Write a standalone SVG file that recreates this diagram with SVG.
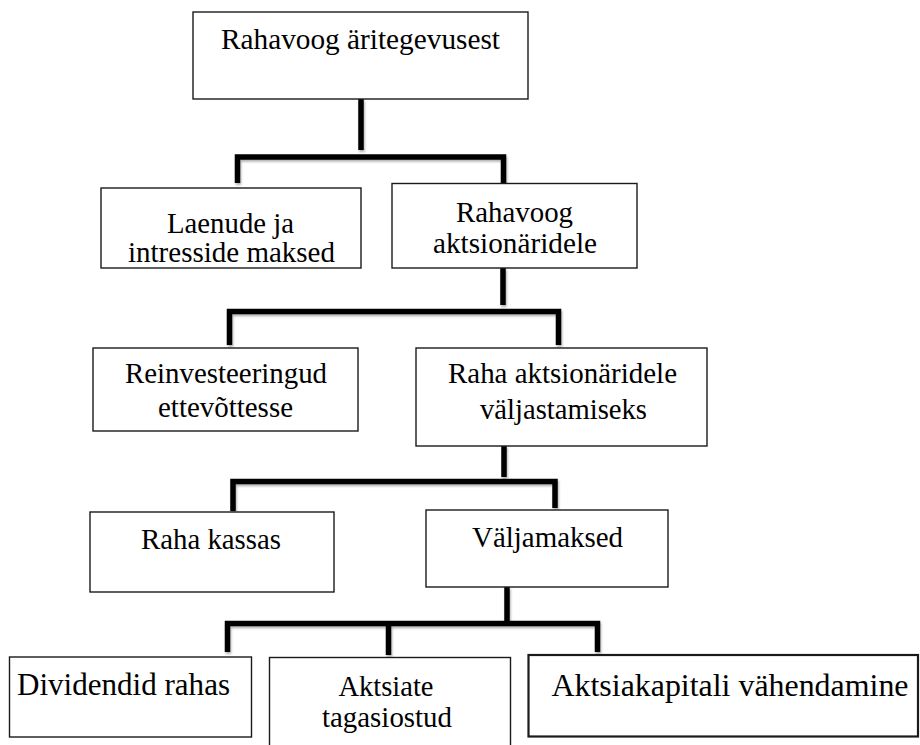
<svg xmlns="http://www.w3.org/2000/svg" width="920" height="745" viewBox="0 0 920 745" font-family="'Liberation Serif', 'DejaVu Serif', serif">
  <style>
    .box { fill: #ffffff; stroke: #1a1a1a; stroke-width: 1.4; }
    .boxb { fill: #ffffff; stroke: #1a1a1a; stroke-width: 2.2; }
    text { font-family: 'Liberation Serif', 'DejaVu Serif', serif; fill: #000000; text-anchor: middle; }
    .t { font-size: 29px; }
    .tl { font-size: 32px; }
    .c { fill: none; stroke: #000000; stroke-width: 5.5; stroke-linejoin: miter; stroke-linecap: butt; }
  </style>
  <defs>
    <filter id="sh" x="-10%" y="-10%" width="120%" height="140%">
      <feDropShadow dx="1" dy="2" stdDeviation="1.3" flood-color="#000000" flood-opacity="0.3"/>
    </filter>
  </defs>
  <rect width="920" height="745" fill="#ffffff"/>

  <g id="connectors" filter="url(#sh)">
    <path class="c" d="M361 99 V150"/>
    <path class="c" d="M237.5 183 V157 H503.5 V183"/>
    <path class="c" d="M503 268 V305"/>
    <path class="c" d="M229.5 345 V311.5 H558.5 V345"/>
    <path class="c" d="M504 446 V477"/>
    <path class="c" d="M233 511 V481.5 H555 V508"/>
    <path class="c" d="M507 587 V621"/>
    <path class="c" d="M227.5 652 V623.5 H597.5 V652"/>
    <path class="c" d="M388.5 623.5 V655"/>
  </g>

  <g id="n-top">
    <rect class="box" x="193" y="12" width="335" height="87"/>
    <text class="t" x="360.5" y="49" textLength="279" lengthAdjust="spacingAndGlyphs">Rahavoog äritegevusest</text>
  </g>

  <g id="n-laenud">
    <rect class="box" x="101" y="188" width="260" height="80"/>
    <text class="t" x="230.5" y="233" textLength="127" lengthAdjust="spacingAndGlyphs">Laenude ja</text>
    <text class="t" x="231.5" y="262" textLength="207" lengthAdjust="spacingAndGlyphs">intresside maksed</text>
  </g>

  <g id="n-rahavoog-aktsionaridele">
    <rect class="box" x="392" y="183.5" width="245" height="84.5"/>
    <text class="t" x="514.5" y="222" textLength="117" lengthAdjust="spacingAndGlyphs">Rahavoog</text>
    <text class="t" x="515" y="253" textLength="164" lengthAdjust="spacingAndGlyphs">aktsionäridele</text>
  </g>

  <g id="n-reinvesteeringud">
    <rect class="box" x="93" y="348" width="265" height="83"/>
    <text class="t" x="226" y="383" textLength="202" lengthAdjust="spacingAndGlyphs">Reinvesteeringud</text>
    <text class="t" x="225.5" y="417" textLength="135" lengthAdjust="spacingAndGlyphs">ettevõttesse</text>
  </g>

  <g id="n-raha-aktsionaridele">
    <rect class="box" x="416" y="348" width="291" height="98"/>
    <text class="t" x="562.5" y="383" textLength="229" lengthAdjust="spacingAndGlyphs">Raha aktsionäridele</text>
    <text class="t" x="563.5" y="419" textLength="167" lengthAdjust="spacingAndGlyphs">väljastamiseks</text>
  </g>

  <g id="n-raha-kassas">
    <rect class="box" x="90" y="512" width="244" height="80"/>
    <text class="t" x="211" y="549" textLength="140" lengthAdjust="spacingAndGlyphs">Raha kassas</text>
  </g>

  <g id="n-valjamaksed">
    <rect class="box" x="426" y="510" width="242" height="77"/>
    <text class="t" x="547.5" y="547" textLength="151" lengthAdjust="spacingAndGlyphs">Väljamaksed</text>
  </g>

  <g id="n-dividendid">
    <rect class="box" x="9.5" y="657" width="242" height="80"/>
    <text class="tl" x="123.5" y="695" textLength="213" lengthAdjust="spacingAndGlyphs">Dividendid rahas</text>
  </g>

  <g id="n-aktsiate-tagasiostud">
    <rect class="box" x="269.5" y="657.5" width="241" height="110"/>
    <text class="t" x="386" y="696" textLength="95" lengthAdjust="spacingAndGlyphs">Aktsiate</text>
    <text class="t" x="387" y="727" textLength="130" lengthAdjust="spacingAndGlyphs">tagasiostud</text>
  </g>

  <g id="n-aktsiakapitali">
    <rect class="boxb" x="528.5" y="655" width="389.5" height="81.5"/>
    <text class="tl" x="730" y="696" textLength="357" lengthAdjust="spacingAndGlyphs">Aktsiakapitali vähendamine</text>
  </g>
</svg>
